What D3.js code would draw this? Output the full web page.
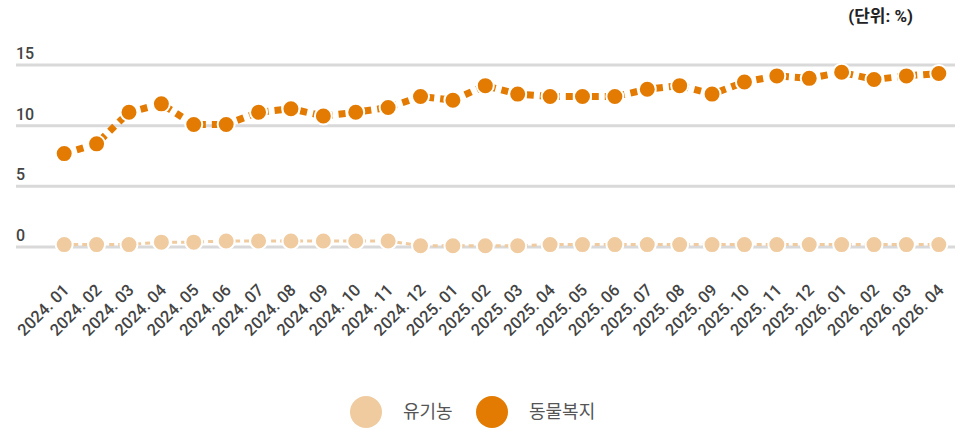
<!DOCTYPE html>
<html>
<head>
<meta charset="utf-8">
<script src="https://cdn.jsdelivr.net/npm/d3@7"></script>
<style>
  body { margin: 0; background: #fff; }
  #chartDiv { width: 974px; height: 430px; }
  text { font-family: Roboto, "Noto Sans CJK KR", sans-serif; }
</style>
</head>
<body>
<div id="chartDiv"></div>
<script>
// month labels on the x axis
var months = ["2024. 01","2024. 02","2024. 03","2024. 04","2024. 05","2024. 06","2024. 07","2024. 08",
              "2024. 09","2024. 10","2024. 11","2024. 12","2025. 01","2025. 02","2025. 03","2025. 04",
              "2025. 05","2025. 06","2025. 07","2025. 08","2025. 09","2025. 10","2025. 11","2025. 12",
              "2026. 01","2026. 02","2026. 03","2026. 04"];

// 유기농 (%)
var organic = [0.2, 0.2, 0.2, 0.4, 0.4, 0.5, 0.5, 0.5, 0.5, 0.5, 0.5, 0.1, 0.1, 0.1,
               0.1, 0.2, 0.2, 0.2, 0.2, 0.2, 0.2, 0.2, 0.2, 0.2, 0.2, 0.2, 0.2, 0.2];

// 동물복지 (%)
var welfare = [7.7, 8.5, 11.1, 11.8, 10.1, 10.1, 11.1, 11.4, 10.8, 11.1, 11.5, 12.4, 12.1, 13.3,
               12.6, 12.4, 12.4, 12.4, 13.0, 13.3, 12.6, 13.6, 14.1, 13.9, 14.4, 13.8, 14.1, 14.3];

var yTicks = [0, 5, 10, 15];
var seriesNames = ["유기농", "동물복지"];
var colors = ["#f0cba0", "#e37b02"];

var outerWidth = 974, outerHeight = 430;

var svg = d3.select("#chartDiv")
    .append("svg")
    .attr("width", outerWidth)
    .attr("height", outerHeight);

// x: one band per month, points at band centres
var x = d3.scalePoint()
    .domain(months)
    .range([48, 955])
    .padding(0.5);

var y = d3.scaleLinear()
    .domain([0, 15])
    .range([247, 65]);

// gridlines + y labels (labels sit on top of the line)
var grid = svg.append("g").attr("class", "grid");
grid.selectAll("line")
    .data(yTicks)
    .enter().append("line")
    .attr("x1", 16)
    .attr("x2", 955)
    .attr("y1", function(d) { return y(d); })
    .attr("y2", function(d) { return y(d); })
    .style("stroke", "#d9d9d9")
    .style("stroke-width", 3);

grid.selectAll("text")
    .data(yTicks)
    .enter().append("text")
    .attr("x", 16)
    .attr("y", function(d) { return y(d) - 6; })
    .style("font-size", "16px")
    .style("font-weight", 500)
    .style("fill", "#444")
    .text(function(d) { return d; });

// unit label
svg.append("text")
    .attr("x", 913)
    .attr("y", 22)
    .attr("text-anchor", "end")
    .style("font-size", "17px")
    .style("font-weight", 700)
    .style("fill", "#222")
    .text("(단위: %)");

// x labels, rotated
var xAxis = svg.append("g").attr("class", "x-axis");
xAxis.selectAll("text")
    .data(months)
    .enter().append("text")
    .attr("transform", function(d) { return "translate(" + (x(d) + 6) + ",291) rotate(-45)"; })
    .attr("text-anchor", "end")
    .style("font-size", "16.5px")
    .style("font-weight", 500)
    .style("fill", "#444")
    .text(function(d) { return d; });

var line = d3.line()
    .x(function(d, i) { return x(months[i]); })
    .y(function(d) { return y(d); });

function drawSeries(values, color, lineWidth, dash) {
    var g = svg.append("g");
    g.append("path")
        .attr("d", line(values))
        .style("fill", "none")
        .style("stroke", color)
        .style("stroke-width", lineWidth)
        .style("stroke-dasharray", dash);
    g.selectAll("circle")
        .data(values)
        .enter().append("circle")
        .attr("cx", function(d, i) { return x(months[i]); })
        .attr("cy", function(d) { return y(d); })
        .attr("r", 8.5)
        .style("fill", color)
        .style("stroke", "#fff")
        .style("stroke-width", 2);
}

drawSeries(organic, colors[0], 3, "5,4");
drawSeries(welfare, colors[1], 7, "7,6");

// legend
var legendX = [366, 492];
var legend = svg.append("g").attr("class", "legend");
seriesNames.forEach(function(name, i) {
    legend.append("circle")
        .attr("cx", legendX[i])
        .attr("cy", 412)
        .attr("r", 16)
        .style("fill", colors[i]);
    legend.append("text")
        .attr("x", legendX[i] + 37)
        .attr("y", 418)
        .style("font-size", "18px")
        .style("fill", "#555")
        .text(name);
});
</script>
</body>
</html>
